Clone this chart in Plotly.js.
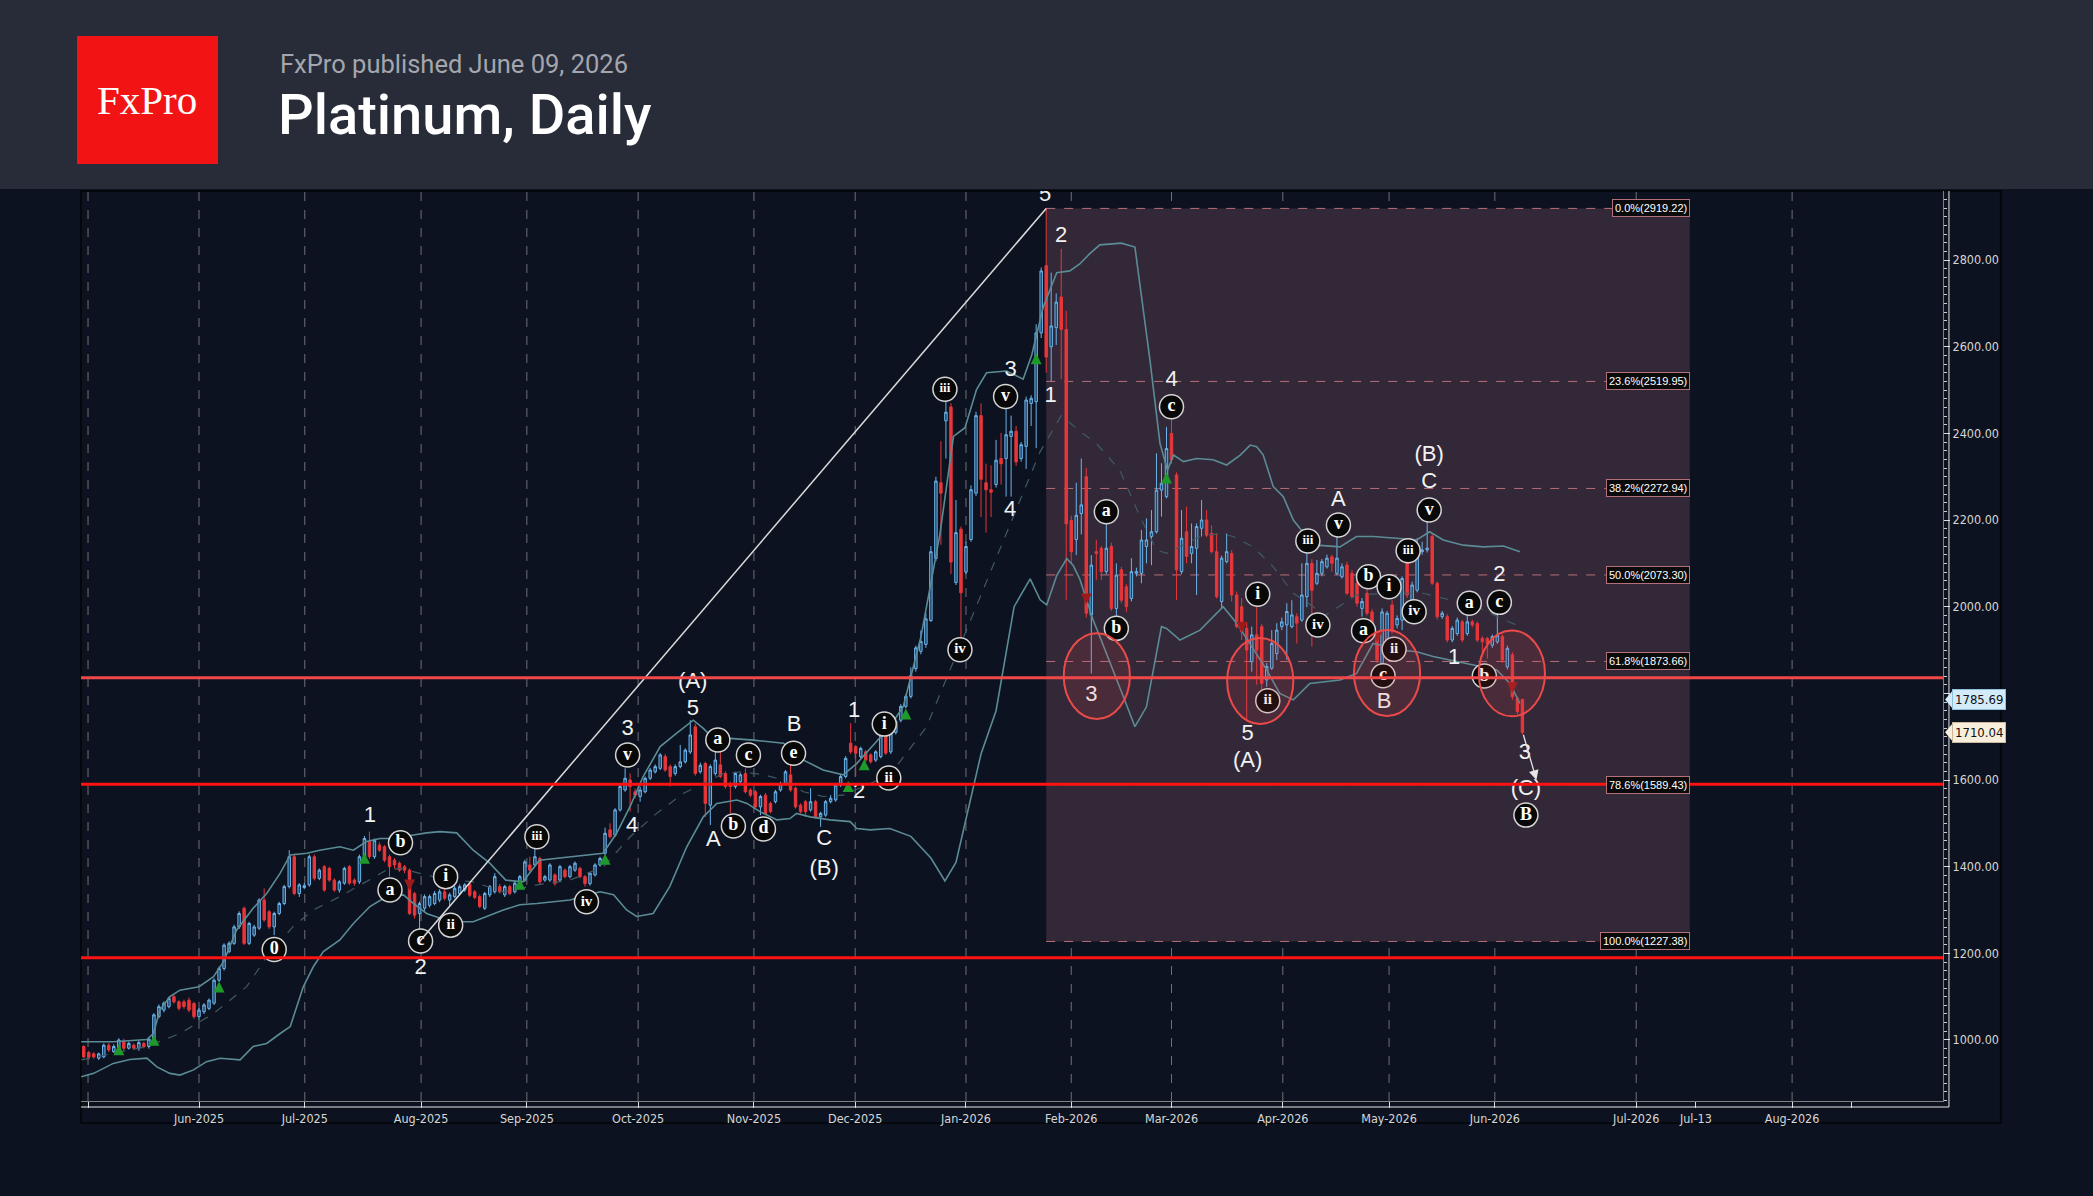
<!DOCTYPE html>
<html>
<head>
<meta charset="utf-8">
<script src="https://cdn.plot.ly/plotly-3.0.1.min.js"></script>
<style>
  html, body { margin: 0; padding: 0; background: #0c1220; }
  #chart { width: 2093px; height: 1196px; }
</style>
</head>
<body>
<div id="chart"></div>
<script>
// ---------------- Platinum daily candles (bar 0 = 30 Apr 2025) ----------------
const open = [
  985,971,968,958,961,988,973,978,996,981,
  988,981,992,985,1004,1054,1069,1077,1100,1088,
  1088,1092,1084,1054,1065,1073,1085,1138,1165,1204,
  1223,1261,1304,1223,1242,1258,1323,1296,1261,1292,
  1315,1354,1423,1338,1352,1358,1423,1373,1400,1396,
  1369,1346,1362,1400,1369,1365,1423,1458,1423,1450,
  1446,1423,1415,1408,1400,1392,1338,1292,1304,1311,
  1315,1323,1342,1323,1331,1338,1346,1360,1342,1331,
  1304,1335,1342,1354,1335,1354,1342,1354,1369,1404,
  1404,1419,1369,1369,1381,1369,1392,1377,1392,1396,
  1377,1361,1381,1404,1431,1485,1473,1531,1577,1600,
  1573,1562,1573,1604,1619,1627,1654,1631,1615,1631,
  1642,1665,1723,1619,1638,1542,1615,1635,1615,1592,
  1585,1596,1615,1577,1573,1538,1565,1546,1550,1577,
  1592,1612,1581,1542,1550,1531,1550,1515,1519,1550,
  1554,1588,1608,1685,1677,1654,1665,1658,1646,1654,
  1700,1665,1710,1738,1770,1793,1857,1897,1913,1968,
  2111,2286,2429,2461,2056,2179,2080,2155,2262,2441,
  2286,2270,2282,2342,2342,2393,2405,2342,2370,2469,
  2473,2632,2787,2600,2644,2715,2640,2199,2155,2215,
  2300,1981,2127,2135,2081,2139,1996,2085,2046,2019,
  2077,2077,2139,2162,2173,2269,2254,2400,2304,2081,
  2173,2123,2135,2181,2200,2169,2127,2012,2104,2123,
  2027,2000,1950,1873,1935,1954,1831,1858,1892,1954,
  1958,1954,1977,1969,2023,2100,2054,2077,2092,2115,
  2077,2069,2096,2077,2054,1996,2031,1988,1931,1869,
  1915,2004,1958,1969,2104,2015,2038,2127,2131,2162,
  2054,1977,1977,1923,1938,1965,1938,1965,1961,1927,
  1927,1911,1919,1931,1861,1889,1788,1785.69
];
const high = [
  988,975,972,971,992,993,990,1004,1003,996,
  992,998,996,1005,1062,1082,1089,1100,1104,1092,
  1093,1098,1088,1074,1085,1096,1142,1170,1223,1228,
  1266,1297,1308,1273,1266,1327,1350,1300,1296,1319,
  1358,1438,1430,1362,1362,1428,1428,1396,1404,1400,
  1373,1369,1400,1404,1373,1428,1471,1481,1465,1456,
  1450,1428,1420,1412,1404,1396,1342,1320,1336,1336,
  1344,1348,1362,1340,1356,1359,1362,1365,1346,1336,
  1342,1358,1385,1360,1358,1358,1366,1381,1416,1423,
  1446,1423,1381,1408,1385,1404,1396,1404,1412,1400,
  1381,1388,1408,1423,1490,1500,1535,1590,1627,1615,
  1580,1585,1608,1628,1636,1662,1660,1636,1636,1681,
  1673,1738,1730,1640,1642,1636,1665,1665,1620,1596,
  1619,1616,1627,1581,1577,1566,1570,1550,1577,1596,
  1623,1635,1585,1546,1554,1581,1554,1527,1554,1565,
  1592,1612,1655,1731,1681,1677,1669,1662,1669,1715,
  1704,1716,1740,1775,1798,1860,1910,1945,1985,2140,
  2300,2382,2477,2470,2246,2185,2150,2280,2450,2469,
  2330,2326,2385,2401,2457,2441,2417,2380,2485,2488,
  2652,2783,2919.22,2771,2723,2826,2683,2210,2286,2342,
  2320,2119,2154,2140,2196,2148,2100,2092,2052,2112,
  2090,2177,2204,2223,2354,2331,2415,2440,2310,2223,
  2231,2192,2192,2246,2223,2188,2169,2118,2169,2131,
  2035,2020,1965,1954,2004,1960,1870,1946,1962,1975,
  2008,2015,1985,2100,2123,2110,2108,2110,2120,2120,
  2162,2100,2104,2085,2060,2020,2050,1995,1935,1996,
  1990,2015,1980,2070,2110,2058,2158,2150,2196,2168,
  2058,1990,1983,1955,1975,1970,1985,1970,1966,1932,
  1930,1936,1985,1936,1910,1895,1792,1788
];
const low = [
  958,955,957,954,958,972,970,975,976,978,
  977,975,981,980,1000,1050,1064,1073,1084,1068,
  1072,1064,1049,1046,1060,1069,1081,1134,1160,1200,
  1219,1256,1219,1219,1238,1254,1273,1256,1242,1288,
  1311,1350,1334,1330,1348,1354,1368,1369,1342,1365,
  1342,1340,1358,1358,1356,1360,1418,1418,1418,1434,
  1410,1377,1396,1388,1385,1288,1280,1227.38,1298,1306,
  1311,1318,1322,1310,1327,1334,1342,1330,1325,1304,
  1300,1330,1338,1338,1330,1334,1338,1350,1365,1388,
  1400,1360,1365,1365,1356,1365,1373,1373,1388,1373,
  1354,1356,1377,1400,1427,1465,1469,1527,1573,1527,
  1558,1550,1569,1600,1615,1623,1619,1585,1610,1627,
  1638,1660,1610,1615,1515,1496,1610,1604,1580,1523,
  1580,1592,1569,1560,1534,1519,1519,1523,1546,1573,
  1588,1573,1534,1523,1515,1527,1511,1492,1515,1546,
  1550,1584,1604,1660,1608,1650,1642,1638,1642,1650,
  1658,1660,1705,1733,1765,1788,1850,1890,1905,1965,
  2105,2143,2342,2075,2050,1928,2075,2150,2255,2207,
  2171,2207,2275,2282,2254,2254,2325,2335,2318,2417,
  2366,2620,2540,2520,2604,2525,2016,2100,2119,2167,
  1975,1846,2062,2062,2075,1990,1977,2008,1988,2012,
  2070,2054,2100,2096,2169,2208,2250,2330,2015,2075,
  2100,2100,2027,2162,2160,2123,2019,1996,2100,2012,
  1950,1923,1736,1850,1820,1800,1815,1854,1877,1946,
  1877,1950,1915,1965,1999,1908,2050,2070,2088,2081,
  2073,2065,2027,2019,2000,1977,1980,1923,1870,1846,
  1910,1938,1950,1946,2020,2010,2033,2120,2125,2050,
  1970,1972,1918,1918,1933,1918,1933,1952,1918,1885,
  1880,1905,1914,1870,1855,1785,1752,1705
];
const close = [
  961,960,961,968,988,977,985,1000,981,992,
  981,994,985,1002,1058,1077,1085,1096,1088,1073,
  1077,1069,1054,1069,1081,1092,1138,1165,1219,1223,
  1261,1292,1223,1269,1261,1323,1277,1261,1292,1315,
  1354,1423,1338,1358,1356,1423,1373,1392,1346,1369,
  1346,1365,1396,1362,1362,1423,1465,1423,1461,1438,
  1415,1400,1404,1392,1392,1292,1288,1315,1331,1331,
  1338,1342,1327,1335,1350,1354,1358,1334,1329,1308,
  1338,1354,1377,1342,1354,1338,1362,1377,1411,1392,
  1423,1365,1377,1404,1361,1400,1377,1400,1408,1377,
  1361,1385,1404,1419,1477,1469,1531,1585,1604,1585,
  1565,1577,1604,1623,1631,1658,1623,1608,1631,1642,
  1669,1704,1615,1634,1546,1631,1646,1608,1585,1585,
  1615,1612,1573,1565,1538,1562,1523,1527,1573,1592,
  1619,1577,1538,1527,1527,1550,1515,1523,1550,1558,
  1588,1608,1650,1665,1662,1673,1646,1642,1665,1708,
  1662,1712,1735,1770,1793,1841,1905,1920,1972,2127,
  2290,2262,2449,2103,2171,2032,2139,2270,2441,2294,
  2270,2264,2338,2330,2397,2405,2334,2374,2477,2481,
  2632,2775,2576,2648,2703,2640,2191,2127,2211,2235,
  1985,2096,2123,2081,2135,1996,2073,2015,2000,2081,
  2081,2154,2154,2173,2269,2285,2365,2339,2085,2158,
  2116,2139,2185,2200,2165,2127,2023,2112,2127,2027,
  1954,1942,1900,1935,1900,1823,1862,1915,1946,1965,
  1989,1981,1962,2027,2100,2038,2077,2104,2112,2100,
  2112,2092,2031,2023,2008,2012,1985,1938,1877,1988,
  1985,1946,1973,2065,2027,2050,2135,2131,2135,2054,
  1977,1985,1923,1950,1969,1923,1965,1958,1923,1919,
  1915,1931,1934,1877,1904,1792,1758,1710.04
];

// ---------------- Bollinger bands, sampled along the bar axis ----------------
const bbUpperX = [-0.5,5.9,12.6,13.9,15.2,17.2,19.2,23,25.9,27.9,30.5,33.8,36.5,39.2,41.2,44.5,47.1,51.1,53.8,56.4,59.1,61.8,65.8,68.4,71.1,74.4,77.7,81,84.2,87.6,90.9,97.5,103.6,106.3,109,111.6,115,118.3,121.6,123.6,124.9,128.9,133.6,139.6,143.6,147.5,151.5,154.2,156.9,159.5,160.8,163.5,167,170.8,173.5,175.8,178.1,180.1,184.1,187.4,189.1,191.4,194.1,196.7,198.7,200.7,202.7,207,209.7,212.7,214.7,216.2,217.4,219.4,222,225.3,228,230.7,232.7,234,235.3,237.3,239.3,241.3,242.6,246,250.6,253.9,257.2,261.9,265.9,268.5,271.2,275.2,279.2,283.2,286.5];
const bbUpper  = [996,996,1001,1015,1069,1100,1115,1123,1146,1181,1254,1304,1338,1385,1427,1431,1438,1446,1438,1458,1465,1465,1473,1478,1481,1478,1438,1408,1369,1365,1415,1423,1431,1477,1539,1608,1677,1708,1738,1719,1704,1696,1692,1685,1646,1623,1612,1638,1673,1708,1723,1770,1930,2167,2393,2413,2501,2540,2544,2525,2580,2691,2771,2775,2791,2815,2835,2839,2830,2569,2377,2315,2350,2335,2342,2339,2327,2350,2373,2369,2350,2277,2254,2200,2181,2142,2138,2162,2162,2158,2154,2173,2154,2142,2138,2140,2127];

const bbLowerX = [-0.5,2,5.9,9.2,12.6,14.6,17.2,19.2,21.9,24.5,27.2,31.2,33.8,36.5,39.2,41.2,43.8,45.8,47.8,51.1,53.8,57.1,60.4,63.8,65.8,68.4,71.1,74.4,77.7,80.4,83.7,87,90.4,97,103,105.7,108.3,110.3,113.6,116.9,120.3,123.6,126.3,130.3,132.3,134.9,138.3,140.9,142.2,144.9,148.9,152.9,154.2,156.9,160.8,165,169,171.8,174,179,182,185.6,188.8,190.8,192.1,194.1,196.1,197.4,198.7,201.4,202.7,207.4,209.7,212,215,216,218.7,222.7,227.3,230,232.6,236,238.6,241.3,244.6,250.6,253.9,257.2,259.9,262.6,265.9,269.2,272.5,275.9,279.2,281.9,284.5,286.5];
const bbLower  = [915,923,946,955,958,938,923,919,931,950,958,954,985,992,1015,1031,1123,1169,1204,1231,1269,1308,1331,1335,1315,1292,1281,1273,1273,1285,1300,1312,1315,1323,1342,1335,1300,1285,1292,1354,1446,1515,1546,1554,1546,1527,1508,1511,1523,1515,1508,1504,1488,1485,1488,1470,1420,1367,1410,1660,1760,2000,2064,2016,2004,2072,2111,2095,2064,1968,1931,1792,1723,1769,1954,1950,1923,1946,2000,1962,1915,1854,1800,1785,1823,1831,1846,1915,1908,1900,1896,1885,1877,1869,1862,1854,1823,1777];

const bbMidX = [-0.5,5.9,12.6,19.2,25.9,32.5,36.5,41.8,45.8,51.1,56.4,60.4,63.1,65.8,69.7,73.7,77.7,83.7,90.4,97,103.7,109,114.3,119.6,123.6,127.6,131.6,135.6,139.6,143.6,147.5,151.5,156.9,160.8,168.1,177.5,184.1,190.8,195,198.7,202,206.7,210.7,214,216,218.7,222.7,226.7,229.3,233.3,237.3,241.3,245.3,247.3,253.9,260.6,267.2,278,282,286.5];
const bbMid  = [954,969,985,1015,1061,1123,1192,1262,1300,1331,1365,1392,1396,1388,1377,1369,1365,1342,1358,1369,1400,1469,1523,1569,1592,1615,1619,1612,1600,1573,1562,1565,1592,1612,1722,1984,2171,2358,2441,2405,2377,2315,2208,2131,2123,2138,2162,2169,2162,2138,2092,2031,2000,1977,2027,2031,2031,2000,1977,1954];

// ---------------- Time axis ----------------
const monthTicks  = [0.86, 23, 44.1, 67.3, 88.4, 110.6, 133.7, 153.9, 176, 197, 217, 239.2, 260.4, 281.5, 309.7, 321.6, 340.8, 352.7];
const monthLabels = ['', 'Jun-2025', 'Jul-2025', 'Aug-2025', 'Sep-2025', 'Oct-2025', 'Nov-2025', 'Dec-2025', 'Jan-2026', 'Feb-2026', 'Mar-2026', 'Apr-2026', 'May-2026', 'Jun-2026', 'Jul-2026', 'Jul-13', 'Aug-2026', ''];
const monthGrid   = [0.86, 23, 44.1, 67.3, 88.4, 110.6, 133.7, 153.9, 176, 197, 217, 239.2, 260.4, 281.5, 309.7, 340.8];

// ---------------- Analysis overlays ----------------
const fibRatios = [0, 0.236, 0.382, 0.5, 0.618, 0.786, 1];
const swingLow = 1227.38;   // August 2025 low
const swingHigh = 2919.22;  // January 2026 high
const fibEndX = 320.4;
const keyLevels = [1836, 1590, 1190];
const zoneX = [202.1, 234.7, 260.0, 284.9];
const zoneY = [1840, 1828.5, 1847, 1846];

const buyX  = [7, 14, 27, 56, 87, 104, 152.5, 155.7, 164, 190, 216];
const buyY  = [990, 1012, 1135, 1432, 1372, 1430, 1598, 1648, 1765, 2585, 2310];
const sellX = [65, 200, 231, 258, 285];
const sellY = [1345, 2005, 1940, 1918, 1800];

// Elliott wave counts: plain labels
const waveText = ['1','2','3','4','(A)','5','A','B','C','(B)','1','2','5','2','1','3','4','3','4','5','(A)','A','B','(B)','C','2','1','3','(C)'];
const waveX    = [57.1,67.2,108.5,109.4,121.5,121.5,125.6,141.7,147.7,147.7,153.7,154.7,191.8,195,192.9,184.9,184.8,201,217,232.2,232.2,250.3,259.4,268.4,268.4,282.4,273.4,287.5,287.7];
const waveY    = [1515,1165.5,1717.7,1492,1824.6,1763,1460,1724.7,1461.6,1394,1759,1571.6,2950,2854,2486,2544,2222.7,1796,2523,1706,1642,2246,1779,2348,2286,2071.6,1881,1661.7,1578.6];

// Elliott wave counts: circled labels
const subText = ['b','a','i','ii','c','0','iii','iv','v','a','b','c','d','e','i','ii','iii','v','iv','c','a','b','i','ii','iii','iv','v','b','i','a','ii','c','iii','iv','v','a','c','b','B'];
const subX    = [63.2,61.1,72.2,73.2,67.2,38,90.4,100.3,108.5,126.5,129.6,132.6,135.6,141.6,159.7,160.6,171.8,183.9,174.8,217,204,206,234.2,236.2,244.2,246.2,250.3,256.3,260.4,255.3,261.4,259.2,264.2,265.4,268.4,276.4,282.4,279.4,287.7];
const subY    = [1455,1346,1377,1265,1228.5,1209,1469,1319,1657.7,1692.4,1494,1657.7,1487,1661.7,1729,1604.7,2502,2485,1900.8,2461.6,2219,1950,2028.6,1783,2151.6,1957.8,2188.6,2069,2046,1944.6,1901.7,1840.8,2129,1988.5,2223,2007.8,2010,1840,1519];

// ---------------- Build ----------------
const AXIS_FAMILY = 'DejaVu Sans Condensed, Liberation Sans Narrow, Arial Narrow, sans-serif';
const xs = open.map((_, i) => i);
const lastI = close.length - 1;

const loI = low.indexOf(swingLow);
const hiI = high.indexOf(swingHigh);
const fibPrice = r => swingHigh - r * (swingHigh - swingLow);

const traces = [
  { type: 'scatter', mode: 'lines', x: bbMidX, y: bbMid, line: { color: '#3f5a63', width: 1.2, dash: 'dash' }, hoverinfo: 'skip' },
  { type: 'scatter', mode: 'lines', x: bbUpperX, y: bbUpper, line: { color: '#5b8c95', width: 1.6 }, hoverinfo: 'skip' },
  { type: 'scatter', mode: 'lines', x: bbLowerX, y: bbLower, line: { color: '#5b8c95', width: 1.6 }, hoverinfo: 'skip' },
  {
    type: 'candlestick', x: xs, open: open, high: high, low: low, close: close,
    increasing: { line: { color: '#6cb4ea', width: 1 }, fillcolor: '#1f4466' },
    decreasing: { line: { color: '#e8363a', width: 1 }, fillcolor: '#e8363a' },
    whiskerwidth: 0, hoverinfo: 'skip'
  },
  { type: 'scatter', mode: 'markers', x: buyX, y: buyY, marker: { symbol: 'arrow-up', size: 11, color: '#1f9a2a', line: { width: 0 } }, hoverinfo: 'skip' },
  { type: 'scatter', mode: 'markers', x: sellX, y: sellY, marker: { symbol: 'arrow-down', size: 11, color: '#9e1a1a', line: { width: 0 } }, hoverinfo: 'skip' },
  {
    type: 'scatter', mode: 'text', x: waveX, y: waveY, text: waveText, textposition: 'middle center',
    textfont: { family: 'Liberation Sans, Arial, sans-serif', size: 22, color: '#f2f2f2' }, hoverinfo: 'skip'
  },
  {
    type: 'scatter', mode: 'markers+text', x: subX, y: subY, text: subText, textposition: 'middle center',
    marker: { size: 24, color: '#080808', line: { color: '#d4d4d4', width: 1.5 } },
    textfont: { family: 'Liberation Serif, Times New Roman, serif', weight: 'bold',
      size: subText.map(t => t.length >= 3 ? 13 : (t.length === 2 ? 15 : 18)), color: '#ffffff' },
    hoverinfo: 'skip'
  }
];

const shapes = [];
// month grid
monthGrid.forEach(m => shapes.push({ type: 'line', xref: 'x', yref: 'paper', x0: m, x1: m, y0: 0, y1: 1, layer: 'below',
  line: { color: 'rgba(190,190,190,0.55)', width: 1, dash: 'dash' } }));
// Fibonacci retracement box and levels
shapes.push({ type: 'rect', xref: 'x', yref: 'y', x0: hiI, x1: fibEndX, y0: swingLow, y1: swingHigh, layer: 'below',
  fillcolor: '#322838', line: { width: 0 } });
fibRatios.forEach(r => shapes.push({ type: 'line', xref: 'x', yref: 'y', x0: hiI, x1: fibEndX, y0: fibPrice(r), y1: fibPrice(r), layer: 'below',
  line: { color: '#b86e78', width: 1, dash: 'dash' } }));
// trend line from the swing low to the swing high
shapes.push({ type: 'line', xref: 'x', yref: 'y', x0: loI, y0: swingLow, x1: hiI, y1: swingHigh, layer: 'above',
  line: { color: '#dcdcdc', width: 1.5 } });
// key horizontal levels
keyLevels.forEach((v, i) => shapes.push({ type: 'line', xref: 'paper', yref: 'y', x0: 0, x1: 1, y0: v, y1: v, layer: 'above',
  line: { color: i === 0 ? '#f04848' : '#ff1212', width: 3 } }));
// highlighted zones
zoneX.forEach((x, i) => shapes.push({ type: 'circle', xref: 'x', yref: 'y', x0: x - 6.6, x1: x + 6.6, y0: zoneY[i] - 99, y1: zoneY[i] + 99,
  layer: 'above', fillcolor: 'rgba(230,70,80,0.13)', line: { color: '#ec4a4a', width: 2 } }));
// outer axis rails
shapes.push({ type: 'line', xref: 'paper', yref: 'paper', x0: 1.0032, x1: 1.0032, y0: -0.0066, y1: 1, layer: 'above', line: { color: '#e6e6e6', width: 1 } });
shapes.push({ type: 'line', xref: 'paper', yref: 'paper', x0: 0, x1: 1.0032, y0: -0.0066, y1: -0.0066, layer: 'above', line: { color: '#e6e6e6', width: 1 } });
// panel frame
shapes.push({ type: 'rect', xref: 'paper', yref: 'paper', x0: 0, x1: 1.0311, y0: -0.0242, y1: 1, layer: 'below', line: { color: '#04070c', width: 2 } });
// header band and logo
shapes.push({ type: 'rect', xref: 'paper', yref: 'paper', x0: -0.05, x1: 1.09, y0: 1.0022, y1: 1.22, layer: 'above', fillcolor: '#282b38', line: { width: 0 } });
shapes.push({ type: 'rect', xref: 'paper', yref: 'paper', x0: -0.00215, x1: 0.07358, y0: 1.0297, y1: 1.1703, layer: 'above', fillcolor: '#f21414', line: { width: 0 } });
// price tag pointers
[[open[lastI], '#d3eaf8'], [close[lastI], '#f7eedb']].forEach(([v, c]) => shapes.push({
  type: 'path', xref: 'paper', yref: 'y', layer: 'above', fillcolor: c, line: { width: 0 },
  path: `M 1.0050 ${v + 20} L 1.0011 ${v} L 1.0050 ${v - 20} Z` }));

const annotations = [
  { xref: 'paper', yref: 'paper', x: 0.0357, y: 1.1, text: 'FxPro', showarrow: false, xanchor: 'center', yanchor: 'middle',
    font: { family: 'Liberation Serif, Times New Roman, serif', size: 41, color: '#ffffff' } },
  { xref: 'paper', yref: 'paper', x: 0.1058, y: 1.1396, text: 'FxPro published June 09, 2026', showarrow: false, xanchor: 'left', yanchor: 'middle',
    font: { family: 'Roboto, sans-serif', size: 25.5, color: '#a4a6ad' } },
  { xref: 'paper', yref: 'paper', x: 0.1045, y: 1.0830, text: 'Platinum, Daily', showarrow: false, xanchor: 'left', yanchor: 'middle',
    font: { family: 'Roboto, sans-serif', size: 56, color: '#ffffff', weight: 500 } },
  { xref: 'x', yref: 'y', x: 289.8, y: 1600, ax: 287.1, ay: 1708, axref: 'x', ayref: 'y', text: '', showarrow: true,
    arrowhead: 2, arrowsize: 1.5, arrowwidth: 1.3, arrowcolor: '#e6e6e6' }
];
fibRatios.forEach(r => annotations.push({
  xref: 'x', yref: 'y', x: fibEndX, y: fibPrice(r), xanchor: 'right', yanchor: 'middle', showarrow: false,
  text: (r * 100).toFixed(1) + '%(' + fibPrice(r).toFixed(2) + ')',
  bgcolor: '#0b0b0b', bordercolor: '#b3707a', borderwidth: 1, borderpad: 2,
  font: { family: 'Liberation Sans, Arial, sans-serif', size: 11, color: '#ffffff' }
}));
[[open[lastI], '#d3eaf8', '#8fbfdc'], [close[lastI], '#f7eedb', '#c9b99a']].forEach(([v, bg, bc]) => annotations.push({
  xref: 'paper', yref: 'y', x: 1.0050, y: v, xanchor: 'left', yanchor: 'middle', showarrow: false,
  text: v.toFixed(2), bgcolor: bg, bordercolor: bc, borderwidth: 1, borderpad: 2,
  font: { family: AXIS_FAMILY, size: 13, color: '#101010' }
}));

const axisFont = { family: AXIS_FAMILY, size: 12.5, color: '#d6d6d6' };
const layout = {
  width: 2093, height: 1196,
  margin: { l: 81, r: 150, t: 191, b: 95, pad: 0 },
  paper_bgcolor: '#0c1220', plot_bgcolor: '#0c1220',
  showlegend: false, dragmode: false,
  xaxis: {
    range: [-0.54, 370.9], tickmode: 'array', tickvals: monthTicks, ticktext: monthLabels,
    ticks: 'outside', ticklen: 6, tickcolor: '#e0e0e0', showline: true, linecolor: '#808080', linewidth: 1,
    showgrid: false, zeroline: false, rangeslider: { visible: false }, tickfont: axisFont, fixedrange: true
  },
  yaxis: {
    side: 'right', range: [859.2, 2959.4], tick0: 0, dtick: 200, tickformat: '.2f',
    ticks: 'outside', ticklen: 6, tickcolor: '#e0e0e0',
    minor: { dtick: 20, ticklen: 3, tickcolor: '#d0d0d0', ticks: 'outside', showgrid: false },
    showline: true, linecolor: '#808080', linewidth: 1, showgrid: false, zeroline: false,
    tickfont: axisFont, fixedrange: true
  },
  shapes: shapes,
  annotations: annotations
};

Plotly.newPlot('chart', traces, layout, { displayModeBar: false, staticPlot: true });
</script>
</body>
</html>
